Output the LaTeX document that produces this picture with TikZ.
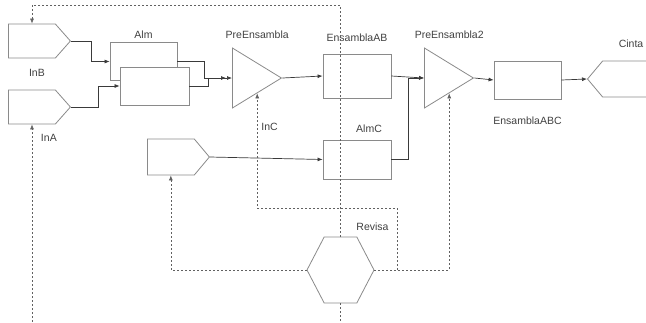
\documentclass[tikz,border=0pt]{standalone}
\usepackage{fontspec}
\setmainfont{Liberation Sans}
\usepackage{tikz}
\usetikzlibrary{shapes.geometric, shapes.symbols, arrows.meta, positioning}

\definecolor{shapegray}{HTML}{8A8A8A}
\definecolor{linegray}{HTML}{3A3A3A}
\definecolor{textgray}{HTML}{404040}

\begin{document}
\begin{tikzpicture}[x=1pt, y=-1pt, font=\fontsize{10.5}{12}\selectfont, text=textgray]

    % Define styles
    \tikzset{
        box/.style = {rectangle, draw=shapegray, line width=0.8pt, inner sep=0pt},
        src/.style = {signal, signal to=east, signal pointer angle=97, draw=shapegray, line width=0.8pt, inner sep=0pt, minimum width=62pt, minimum height=34pt},
        tri/.style = {isosceles triangle, isosceles triangle stretches, draw=shapegray, line width=0.8pt, inner sep=0pt, minimum width=60pt, minimum height=49pt, anchor=west},
        hexa/.style = {signal, signal to=west and east, signal pointer angle=125, draw=shapegray, line width=0.8pt, inner sep=0pt, minimum width=67pt, minimum height=66pt},
        lbl/.style = {inner sep=1pt, text=textgray},
        arr/.style = {draw=linegray, line width=0.7pt, -{Latex[length=5pt, width=4pt]}},
        fb/.style = {draw=linegray!80, line width=0.6pt, dash pattern=on 2pt off 2pt},
        fbarr/.style = {fb, -{Latex[length=5pt, width=4pt]}}
    }

    \useasboundingbox (0,0) rectangle (646,322);

    % Nodes
    \node (inb) [src, anchor=west, label={[lbl, xshift=5pt, label distance=10pt]below:InB}] at (8,41) {};
    \node (ina) [src, anchor=west, label={[lbl, xshift=17pt, label distance=9pt]below:InA}] at (8,107) {};
    \node (alm1) [box, minimum width=67pt, minimum height=38pt, label={[lbl, label distance=2pt]above:Alm}] at (143.5,61.5) {};
    \node (alm2) [box, fill=white, minimum width=69pt, minimum height=38pt] at (154.5,86) {};
    \node (pre1) [tri] at (232,78) {};
    \node (ensab) [box, minimum width=68pt, minimum height=44pt, label={[lbl, label distance=11pt]above:EnsamblaAB}] at (357,76) {};
    \node (inc) [src, anchor=west, minimum height=36pt, signal pointer angle=100] at (147,157) {};
    \node (almc) [box, minimum width=68pt, minimum height=39pt, label={[lbl, xshift=12pt, label distance=6pt]above:AlmC}] at (357,159.5) {};
    \node (pre2) [tri] at (424,78) {};
    \node (ensabc) [box, minimum width=67pt, minimum height=38pt, label={[lbl, label distance=16pt]below:EnsamblaABC}] at (527.5,80) {};
    \node (cinta) [src, anchor=west, signal to=west, signal pointer angle=100, minimum height=36pt, label={[lbl, xshift=5pt, label distance=12pt]above:Cinta}] at (587,79) {};
    \node (revisa) [hexa, label={[lbl, xshift=32pt, label distance=5pt]above:Revisa}] at (340.5,270) {};

    % Labels of the triangles
    \node (pre1lbl) [lbl] at (pre1.left side |- 0,35) {PreEnsambla};
    \node (pre2lbl) [lbl] at (pre2.left side |- 0,35) {PreEnsambla2};
    \node (inclbl) [lbl, below right=29pt and 3pt of pre1.right side] {InC};

    % Helper coordinates
    \coordinate (fbtop) at (32,5);
    \coordinate (fbbot) at (32,322);
    \coordinate (br) at (397,270);

    % Lines
    \draw[arr] (inb.east) -- ++(20,0) |- (alm1.west);
    \draw[arr] (ina.east) -- ++(27,0) |- (alm2.west);
    \draw[arr] (alm1.east) -- ++(27,0) |- ([xshift=-6pt]pre1.west);
    \draw[arr] (alm2.east) -- ++(19,0) |- (pre1.west);
    \draw[arr] (pre1.apex) -- (ensab.west);
    \draw[arr] (ensab.east) -- (pre2.west);
    \draw[arr] (almc.east) -- ++(17,0) |- (pre2.west);
    \draw[arr] (inc.east) -- (almc.west);
    \draw[arr] (pre2.apex) -- (ensabc.west);
    \draw[arr] (ensabc.east) -- (cinta.west);

    % Feedback (dashed)
    \draw[fbarr] (revisa.north) |- (fbtop) -- (inb.north -| fbtop);
    \draw[fb] (revisa.south) -- (revisa.south |- fbbot);
    \draw[fbarr] (fbbot) -- (ina.south -| fbbot);
    \draw[fbarr] (revisa.west) -| (inc.south);
    \draw[fbarr] (revisa.east) -| (pre2.right side);
    \draw[fbarr] (br) -- ++(0,-62) -| (pre1.right side);

\end{tikzpicture}
\end{document}
